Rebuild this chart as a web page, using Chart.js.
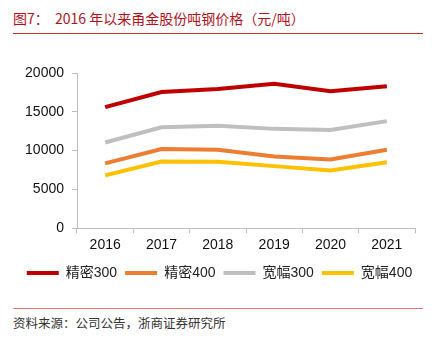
<!DOCTYPE html>
<html>
<head>
<meta charset="utf-8">
<script src="https://cdn.jsdelivr.net/npm/chart.js@4/dist/chart.umd.min.js"></script>
<style>
  html, body { margin: 0; padding: 0; background: #fff; }
  body { width: 432px; height: 344px; position: relative; overflow: hidden; }
  .title {
    position: absolute; left: 13px; top: 8px;
    font-family: "Noto Sans CJK SC", sans-serif; font-size: 14px; color: #B3121B;
    white-space: nowrap;
  }
  .rule-top { position: absolute; left: 13px; top: 33px; width: 410px; height: 1px; background: #C9302C; }
  .rule-bottom { position: absolute; left: 13px; top: 308px; width: 410px; height: 1px; background: #E07A7A; }
  .source {
    position: absolute; left: 13px; top: 313px;
    font-family: "Noto Sans CJK SC", sans-serif; font-size: 12.5px; color: #333;
    white-space: nowrap;
  }
  .wrap { position: absolute; left: 0; top: 40px; width: 432px; height: 250px; }
</style>
</head>
<body>
<div class="title">图7：&nbsp; 2016 年以来甬金股份吨钢价格（元/吨）</div>
<div class="rule-top"></div>
<div class="wrap"><canvas id="c"></canvas></div>
<div class="rule-bottom"></div>
<div class="source">资料来源：公司公告，浙商证券研究所</div>
<script>
const years = ['2016', '2017', '2018', '2019', '2020', '2021'];
const jingmi300 = [15600, 17550, 17950, 18600, 17650, 18300];
const jingmi400 = [8350, 10200, 10100, 9250, 8850, 10100];
const kuanfu300 = [11050, 13000, 13200, 12800, 12650, 13800];
const kuanfu400 = [6800, 8600, 8550, 8000, 7450, 8500];
const yTicks = [0, 5000, 10000, 15000, 20000];

const font = { family: '"Liberation Sans", Arial, sans-serif', size: 14 };
const axisColor = '#BFBFBF';

function series(label, data, color) {
  return {
    label, data,
    borderColor: color, backgroundColor: color,
    borderWidth: 4, pointRadius: 0, tension: 0, fill: false
  };
}

// Centre the legend on the full page width rather than the padded layout box.
const legendShift = {
  id: 'legendShift',
  afterLayout(chart) {
    const lg = chart.legend;
    if (lg) { lg.left += 12; lg.right += 12; }
  }
};

new Chart(document.getElementById('c'), {
  type: 'line',
  data: {
    labels: years,
    datasets: [
      series('精密300', jingmi300, '#C00000'),
      series('精密400', jingmi400, '#ED7D31'),
      series('宽幅300', kuanfu300, '#BFBFBF'),
      series('宽幅400', kuanfu400, '#FFC000')
    ]
  },
  plugins: [legendShift],
  options: {
    responsive: true,
    maintainAspectRatio: false,
    animation: false,
    layout: { padding: { left: 0, right: 17, top: 33, bottom: 0 } },
    plugins: {
      tooltip: { enabled: false },
      legend: {
        position: 'bottom',
        labels: {
          boxWidth: 32, boxHeight: 4, padding: 8,
          color: '#222',
          font: { family: '"Liberation Sans", "Noto Sans CJK SC", sans-serif', size: 14 },
          generateLabels: (chart) => Chart.defaults.plugins.legend.labels.generateLabels(chart)
            .map(item => Object.assign(item, { lineWidth: 0 }))
        }
      }
    },
    scales: {
      x: {
        offset: true,
        grid: { offset: true, drawOnChartArea: false, drawTicks: true, tickLength: 5, color: axisColor },
        border: { color: axisColor, width: 1 },
        ticks: { color: '#111', font, padding: 4 }
      },
      y: {
        min: 0, max: 20000,
        afterBuildTicks: (axis) => { axis.ticks = yTicks.map(v => ({ value: v })); },
        afterFit: (axis) => { axis.width = 77; },
        grid: { drawOnChartArea: false, drawTicks: true, tickLength: 5, color: axisColor },
        border: { color: axisColor, width: 1 },
        ticks: { color: '#111', font, padding: 8, callback: (v) => String(v) }
      }
    }
  }
});
</script>
</body>
</html>
